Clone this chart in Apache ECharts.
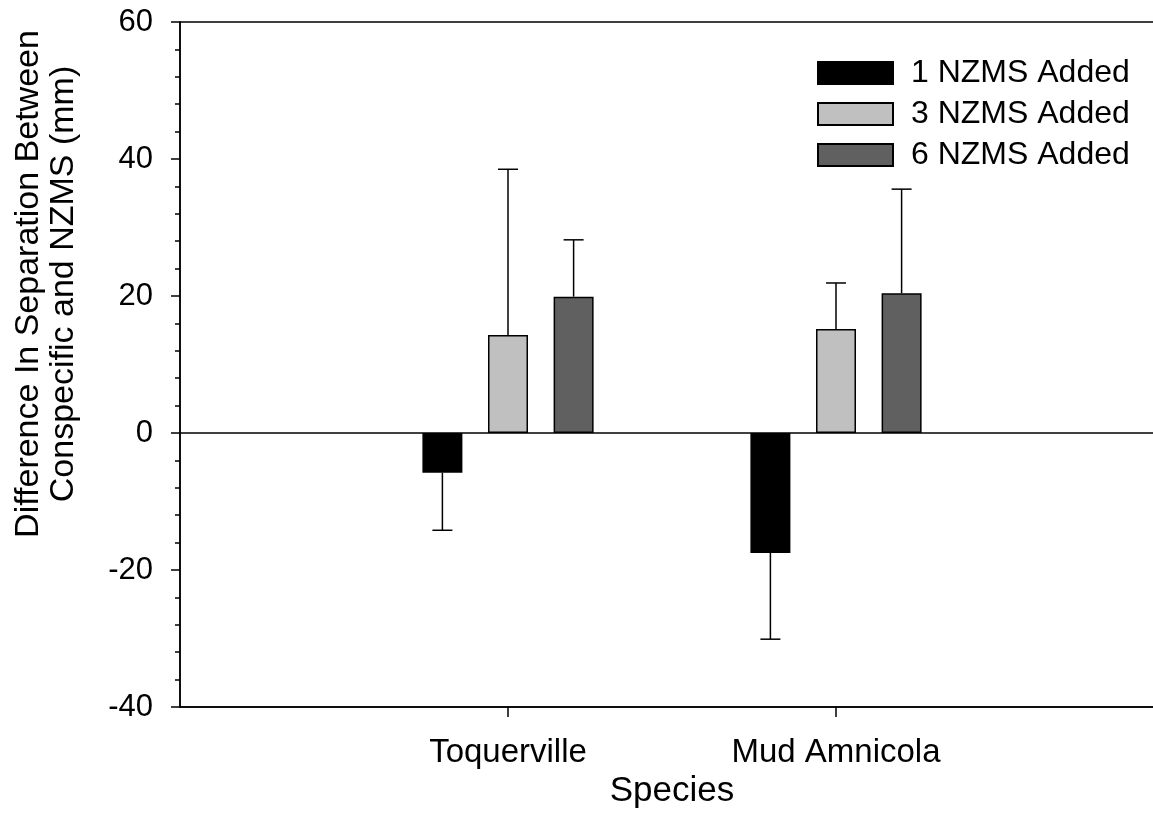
<!DOCTYPE html>
<html>
<head>
<meta charset="utf-8">
<script src="https://cdn.jsdelivr.net/npm/echarts@6/dist/echarts.min.js"></script>
<style>html,body{margin:0;padding:0;background:#fff;}#chart{width:1153px;height:837px;}</style>
</head>
<body>
<div id="chart"></div>
<script>
// ---- data ----
const categories = ['', 'Toquerville', 'Mud Amnicola', ''];
const seriesNames = ['1 NZMS Added', '3 NZMS Added', '6 NZMS Added'];
const means1 = [null, -5.8, -17.5, null];
const means3 = [null, 14.3, 15.2, null];
const means6 = [null, 19.9, 20.4, null];
const err1 = [null, 8.4, 12.6, null];
const err3 = [null, 24.2, 6.7, null];
const err6 = [null, 8.3, 15.2, null];
const yTicks = [-40, -20, 0, 20, 40, 60];
const yTitle = ['Difference In Separation Between', 'Conspecific and NZMS (mm)'];
const xTitle = 'Species';

// ---- style ----
const FONT = '"Liberation Sans", Arial, Helvetica, sans-serif';
const colors = ['#000000', '#c0c0c0', '#606060'];
const BAR_W = 40;
const BAR_GAP = 0.64;

const allMeans = [means1, means3, means6];
const allErr = [err1, err3, err6];

const errData = [];
allMeans.forEach((m, s) => {
  m.forEach((v, i) => {
    if (v !== null) errData.push([i, v, allErr[s][i], s]);
  });
});

const chart = echarts.init(document.getElementById('chart'), null, {renderer: 'canvas'});

const barSeries = seriesNames.map((name, s) => ({
  name: name,
  type: 'bar',
  data: allMeans[s],
  barWidth: BAR_W,
  barGap: (BAR_GAP * 100) + '%',
  itemStyle: {color: colors[s], borderColor: '#000', borderWidth: 1.5},
  z: 3,
  markLine: s === 0 ? {
    silent: true, symbol: 'none', animation: false,
    label: {show: false},
    lineStyle: {color: '#000', type: 'solid', width: 1.5},
    data: [{yAxis: 0}]
  } : undefined
}));

const errSeries = {
  type: 'custom',
  name: 'err',
  data: errData,
  encode: {x: 0, y: 1},
  z: 2,
  silent: true,
  renderItem: function (params, api) {
    const cat = api.value(0);
    const mean = api.value(1);
    const e = api.value(2);
    const s = api.value(3);
    const end = mean >= 0 ? mean + e : mean - e;
    const p0 = api.coord([cat, mean]);
    const p1 = api.coord([cat, end]);
    const dx = (s - 1) * BAR_W * (1 + BAR_GAP);
    const x = p0[0] + dx;
    const capHalf = BAR_W / 4;
    const st = {stroke: '#000', lineWidth: 1.5};
    return {
      type: 'group',
      children: [
        {type: 'line', shape: {x1: x, y1: p0[1], x2: x, y2: p1[1]}, style: st},
        {type: 'line', shape: {x1: x - capHalf, y1: p1[1], x2: x + capHalf, y2: p1[1]}, style: st}
      ]
    };
  }
};

chart.setOption({
  animation: false,
  backgroundColor: '#fff',
  textStyle: {fontFamily: FONT, color: '#000'},
  grid: {left: 180, top: 22, right: -11, bottom: 130, outerBoundsMode: 'none', containLabel: false,
    show: true, borderColor: '#000', borderWidth: 1.5, backgroundColor: 'transparent'},
  legend: {
    orient: 'vertical',
    left: 812, top: 52,
    itemWidth: 75, itemHeight: 22, itemGap: 9,
    icon: 'rect',
    data: seriesNames,
    textStyle: {fontFamily: FONT, fontSize: 32, color: '#000', padding: [0, 0, 0, 13]},
    selectedMode: false
  },
  xAxis: {
    type: 'category',
    data: categories,
    boundaryGap: false,
    name: xTitle,
    nameLocation: 'middle',
    nameGap: 66,
    nameTextStyle: {fontFamily: FONT, fontSize: 35, color: '#000'},
    axisLine: {show: true, onZero: false, lineStyle: {color: '#000', width: 1.5}},
    axisTick: {show: true, inside: false, length: 10, lineStyle: {color: '#000', width: 1.5},
      interval: function (idx) { return idx === 1 || idx === 2; }},
    axisLabel: {fontFamily: FONT, fontSize: 33, color: '#000', margin: 29, interval: 0},
    splitLine: {show: false}
  },
  yAxis: {
    type: 'value',
    min: yTicks[0], max: yTicks[yTicks.length - 1], interval: 20,
    axisLine: {show: true, lineStyle: {color: '#000', width: 1.5}},
    axisTick: {show: true, inside: false, length: 9, lineStyle: {color: '#000', width: 1.5}},
    minorTick: {show: true, splitNumber: 5, length: 5, lineStyle: {color: '#000', width: 1.5}},
    axisLabel: {fontFamily: FONT, fontSize: 31, color: '#000', margin: 27},
    splitLine: {show: false},
    minorSplitLine: {show: false}
  },
  graphic: [{
    type: 'text',
    x: 46, y: 284,
    rotation: Math.PI / 2,
    style: {
      text: yTitle.join('\n'),
      font: '34px ' + FONT,
      fill: '#000',
      align: 'center',
      verticalAlign: 'middle',
      lineHeight: 35
    }
  }],
  series: barSeries.concat([errSeries])
});
</script>
</body>
</html>
